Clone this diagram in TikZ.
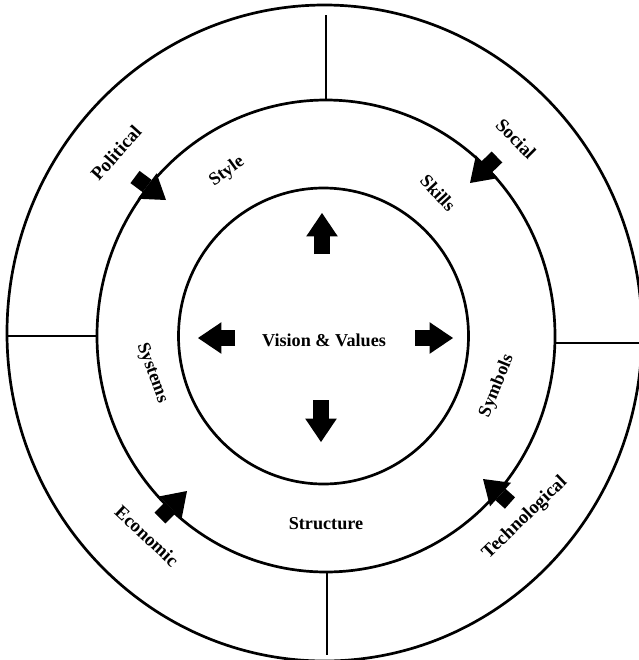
\documentclass[tikz,border=0pt]{standalone}
\usepackage{fontspec}
\setmainfont{Liberation Serif}
\usepackage{tikz}
\usetikzlibrary{arrows.meta, shapes.geometric}
\tikzset{
  ring/.style={ellipse, draw, line width=2.3pt, inner sep=0pt, outer sep=0pt},
  divider/.style={line width=2.1pt},
  fat/.style={line width=13pt, -{Triangle[length=20pt, width=27pt, line width=0pt]}},
  lbl/.style={font=\bfseries\fontsize{15.5}{18}\selectfont, inner sep=0pt},
  force/.style={font=\bfseries\fontsize{16}{18}\selectfont, inner sep=0pt}
}

\begin{document}
\begin{tikzpicture}[x=0.3mm, y=-0.3mm]
\useasboundingbox (0,0) rectangle (639,660);
\node[ring, minimum width=190.5mm, minimum height=196.8mm] (outer) at (324.5,333) {};
\node[ring, minimum width=137.4mm, minimum height=141.6mm] (middle) at (326,336) {};
\node[ring, minimum width=87mm, minimum height=88.8mm] (inner) at (323.5,336) {};
\draw[divider, shorten >=3mm] (middle.north) -- (middle.north |- outer.north);
\draw[divider, shorten >=1.8mm] ([xshift=0.3mm]middle.south) -- ([xshift=0.3mm]middle.south |- outer.south);
\draw[divider] (middle.west) -- (middle.west -| outer.west);
\draw[divider] ([yshift=-2.1mm]middle.east) -- ([yshift=-2.1mm]middle.east -| outer.east);
\node[lbl] (vision) at (324,340) {Vision \& Values};
\node[lbl] (structure) at (326,524) {Structure};
\node[lbl, rotate=36] (style) at (227,172) {Style};
\node[lbl, rotate=-47] (skills) at (438,193) {Skills};
\node[lbl, rotate=-70] (systems) at (152,373) {Systems};
\node[lbl, rotate=68] (symbols) at (497,386) {Symbols};
\node[force, rotate=48] (political) at (116,153) {Political};
\node[force, rotate=-45] (social) at (516,139) {Social};
\node[force, rotate=-43] (economic) at (147,536) {Economic};
\node[force, rotate=44] (technological) at (525,518) {Technological};
\coordinate (up-tail) at (322,254);
\coordinate (up-tip) at (322,213);
\coordinate (down-tail) at (321,400);
\coordinate (down-tip) at (321,442);
\coordinate (left-tail) at (235,338);
\coordinate (left-tip) at (198,338);
\coordinate (right-tail) at (415,338);
\coordinate (right-tip) at (453,338);
\coordinate (pol-tail) at (135,177);
\coordinate (pol-tip) at (166,200);
\coordinate (soc-tail) at (497,157);
\coordinate (soc-tip) at (470,183);
\coordinate (eco-tail) at (160,518);
\coordinate (eco-tip) at (187,491);
\coordinate (tech-tail) at (510,503);
\coordinate (tech-tip) at (483,479);
\draw[fat] (up-tail) -- (up-tip);
\draw[fat] (down-tail) -- (down-tip);
\draw[fat] (left-tail) -- (left-tip);
\draw[fat] (right-tail) -- (right-tip);
\draw[fat] (pol-tail) -- (pol-tip);
\draw[fat] (soc-tail) -- (soc-tip);
\draw[fat] (eco-tail) -- (eco-tip);
\draw[fat] (tech-tail) -- (tech-tip);
\end{tikzpicture}
\end{document}
